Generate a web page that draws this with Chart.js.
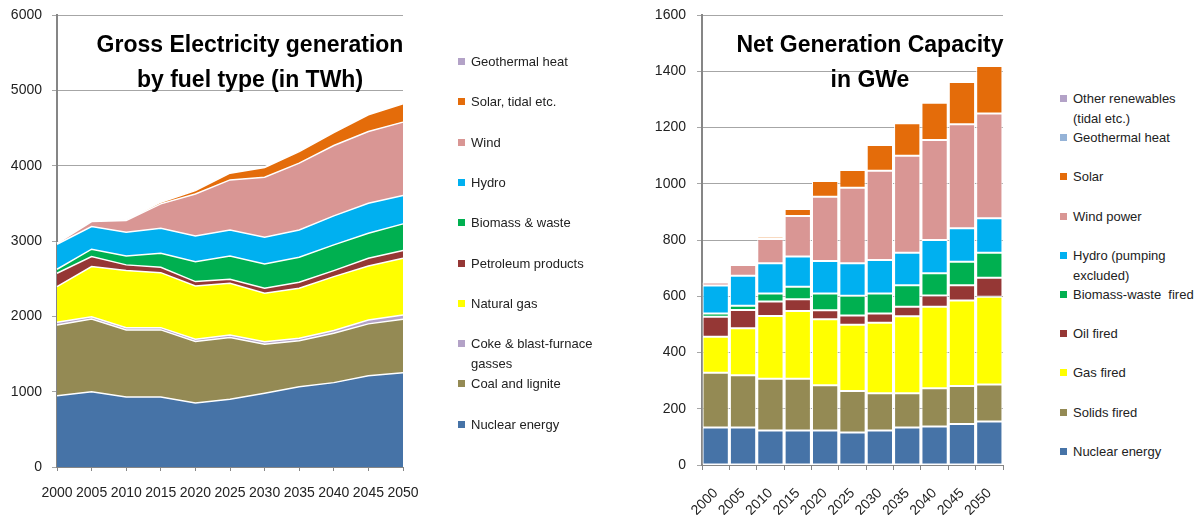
<!DOCTYPE html>
<html>
<head>
<meta charset="utf-8">
<script src="https://cdn.jsdelivr.net/npm/chart.js@4"></script>
<style>
  body { margin: 0; background: #fff; }
  #wrap { position: relative; width: 1202px; height: 515px; font-family: 'Liberation Sans', Arial, sans-serif; }
  canvas { position: absolute; top: 0; }
  .title { position: absolute; top: 27px; width: 360px; text-align: center; white-space: nowrap; font-weight: bold; font-size: 23px; line-height: 35px; color: #000; }
  .legend { position: absolute; top: 0; left: 0; font-size: 13px; color: #222; }
  .legend .item { position: absolute; white-space: pre; line-height: 20px; }
  .legend .box { position: absolute; left: -13px; top: 6px; width: 7px; height: 7px; }
</style>
</head>
<body>
<div id="wrap">
  <canvas id="gen" width="420" height="515" style="left:0"></canvas>
  <canvas id="cap" width="380" height="515" style="left:640px"></canvas>
  <div class="title" style="left:70px">Gross Electricity generation<br>by fuel type (in TWh)</div>
  <div class="title" style="left:690px">Net Generation Capacity<br>in GWe</div>
  <div class="legend" id="genLegend"></div>
  <div class="legend" id="capLegend"></div>
</div>
<script>
const years = ['2000', '2005', '2010', '2015', '2020', '2025', '2030', '2035', '2040', '2045', '2050'];

// Gross electricity generation, TWh (stacked bottom-up)
const genNuclear = [945, 1000, 930, 930, 850, 900, 980, 1065, 1120, 1210, 1250];
const genCoal    = [940, 965, 890, 890, 815, 820, 650, 610, 655, 690, 710];
const genCoke    = [35, 30, 30, 30, 30, 32, 32, 35, 38, 52, 57];
const genGas     = [475, 665, 757, 730, 709, 688, 645, 663, 714, 717, 754];
const genOil     = [177, 133, 76, 72, 57, 53, 66, 80, 80, 102, 102];
const genBiomass = [53, 98, 119, 186, 265, 309, 323, 332, 341, 332, 354];
const genHydro   = [332, 300, 315, 332, 342, 345, 354, 362, 385, 399, 376];
const genWind    = [10, 67, 154, 323, 557, 664, 797, 886, 934, 951, 975];
const genSolar   = [0, 3, 5, 22, 44, 89, 128, 154, 173, 222, 243];
const genGeo     = [3, 4, 5, 5, 6, 6, 7, 8, 8, 9, 10];

// Net generation capacity, GWe (stacked bottom-up)
const capNuclear = [133, 133, 123, 123, 123, 116, 123, 133, 137, 146, 155];
const capSolids  = [195, 186, 184, 184, 161, 147, 132, 122, 136, 135, 131];
const capGas     = [128, 167, 223, 241, 234, 236, 251, 274, 290, 304, 312];
const capOil     = [71, 65, 51, 41, 32, 33, 33, 34, 40, 54, 68];
const capBiomass = [12, 15, 29, 45, 60, 70, 71, 76, 79, 84, 89];
const capHydro   = [99, 107, 107, 107, 115, 115, 119, 116, 118, 119, 122];
const capWind    = [11, 38, 87, 144, 229, 269, 317, 345, 356, 370, 373];
const capSolar   = [0, 2, 8, 25, 56, 63, 92, 115, 132, 150, 169];
const capGeo     = [1, 1, 1, 1, 1, 1, 1, 1, 2, 2, 2];
const capOther   = [1, 1, 1, 1, 1, 1, 2, 2, 3, 4, 6];

const genLabels = ['Nuclear energy', 'Coal and lignite', ['Coke & blast-furnace', 'gasses'], 'Natural gas',
  'Petroleum products', 'Biomass & waste', 'Hydro', 'Wind', 'Solar, tidal etc.', 'Geothermal heat'];
const capLabels = ['Nuclear energy', 'Solids fired', 'Gas fired', 'Oil fired', 'Biomass-waste  fired',
  ['Hydro (pumping', 'excluded)'], 'Wind power', 'Solar', 'Geothermal heat', ['Other renewables', '(tidal etc.)']];

const genYTicks = [0, 1000, 2000, 3000, 4000, 5000, 6000];
const capYTicks = [0, 200, 400, 600, 800, 1000, 1200, 1400, 1600];

const genColors = ['#4673a7', '#948a54', '#b3a2c7', '#ffff00', '#953735', '#00b050', '#00b0f0', '#d99694', '#e46c0a', '#b3a2c7'];
const capColors = ['#4673a7', '#948a54', '#ffff00', '#953735', '#00b050', '#00b0f0', '#d99694', '#e46c0a', '#95b3d7', '#b3a2c7'];

Chart.defaults.font.family = "'Liberation Sans', Arial, sans-serif";
Chart.defaults.font.size = 14;
Chart.defaults.color = '#222';

const axisGray = '#868686';
const gridGray = '#a6a6a6';

function buildLegend(id, labels, colors, x, y0, step) {
  const el = document.getElementById(id);
  // legend lists the top of the stack first
  for (let i = labels.length - 1, row = 0; i >= 0; i--, row++) {
    const lines = Array.isArray(labels[i]) ? labels[i] : [labels[i]];
    const item = document.createElement('div');
    item.className = 'item';
    item.style.left = x + 'px';
    item.style.top = (y0 + row * step - 10) + 'px';
    item.innerHTML = '<span class="box" style="background:' + colors[i] + '"></span>' + lines.join('<br>');
    el.appendChild(item);
  }
}

function tickList(values) {
  return scale => { scale.ticks = values.map(v => ({ value: v })); };
}

// fixed axis boxes, so the plot areas land where the original has them;
// label overflow is handled by the layout padding instead
function fixX(height) {
  return s => { s.height = height; s.paddingLeft = 0; s.paddingRight = 0; };
}
function fixY(width) {
  return s => { s.width = width; s.paddingTop = 0; s.paddingBottom = 0; };
}

const plainNumber = v => String(v);

const genData = [genNuclear, genCoal, genCoke, genGas, genOil, genBiomass, genHydro, genWind, genSolar, genGeo];
new Chart(document.getElementById('gen'), {
  type: 'line',
  data: {
    labels: years,
    datasets: genData.map((d, i) => ({
      label: [].concat(genLabels[i]).join(' '),
      data: d,
      backgroundColor: genColors[i],
      borderColor: '#fff',
      borderWidth: 1.5,
      fill: i === 0 ? 'origin' : '-1',
      pointRadius: 0,
      tension: 0
    }))
  },
  options: {
    responsive: false,
    animation: false,
    layout: { padding: { top: 15, right: 17, left: 0, bottom: 0 } },
    plugins: { legend: { display: false }, tooltip: { enabled: false } },
    scales: {
      x: {
        grid: { drawOnChartArea: false, tickLength: 4, color: axisGray },
        border: { color: axisGray, width: 1 },
        ticks: { padding: 14, maxRotation: 0, autoSkip: false },
        afterFit: fixX(48)
      },
      y: {
        stacked: true,
        min: 0,
        max: 6000,
        afterBuildTicks: tickList(genYTicks),
        ticks: { padding: 10, callback: plainNumber },
        grid: { color: gridGray, tickLength: 5 },
        border: { color: axisGray, width: 2 },
        afterFit: fixY(57)
      }
    }
  }
});

const capData = [capNuclear, capSolids, capGas, capOil, capBiomass, capHydro, capWind, capSolar, capGeo, capOther];
new Chart(document.getElementById('cap'), {
  type: 'bar',
  data: {
    labels: years,
    datasets: capData.map((d, i) => ({
      label: [].concat(capLabels[i]).join(' '),
      data: d,
      backgroundColor: capColors[i],
      borderColor: '#fff',
      borderWidth: 1,
      borderSkipped: false,
      categoryPercentage: 1,
      barPercentage: 0.96
    }))
  },
  options: {
    responsive: false,
    animation: false,
    layout: { padding: { top: 15, right: 17, left: 0, bottom: 0 } },
    plugins: { legend: { display: false }, tooltip: { enabled: false } },
    scales: {
      x: {
        stacked: true,
        grid: { drawOnChartArea: false, tickLength: 5, color: axisGray },
        border: { color: axisGray, width: 1 },
        ticks: { padding: 15, minRotation: 45, maxRotation: 45, autoSkip: false },
        afterFit: fixX(50)
      },
      y: {
        stacked: true,
        min: 0,
        max: 1600,
        afterBuildTicks: tickList(capYTicks),
        ticks: { padding: 11, callback: plainNumber },
        grid: { color: gridGray, tickLength: 5 },
        border: { color: axisGray, width: 2 },
        afterFit: fixY(62)
      }
    }
  }
});

buildLegend('genLegend', genLabels, genColors, 471, 62, 40.3);
buildLegend('capLegend', capLabels, capColors, 1073, 99, 39.2);
</script>
</body>
</html>
